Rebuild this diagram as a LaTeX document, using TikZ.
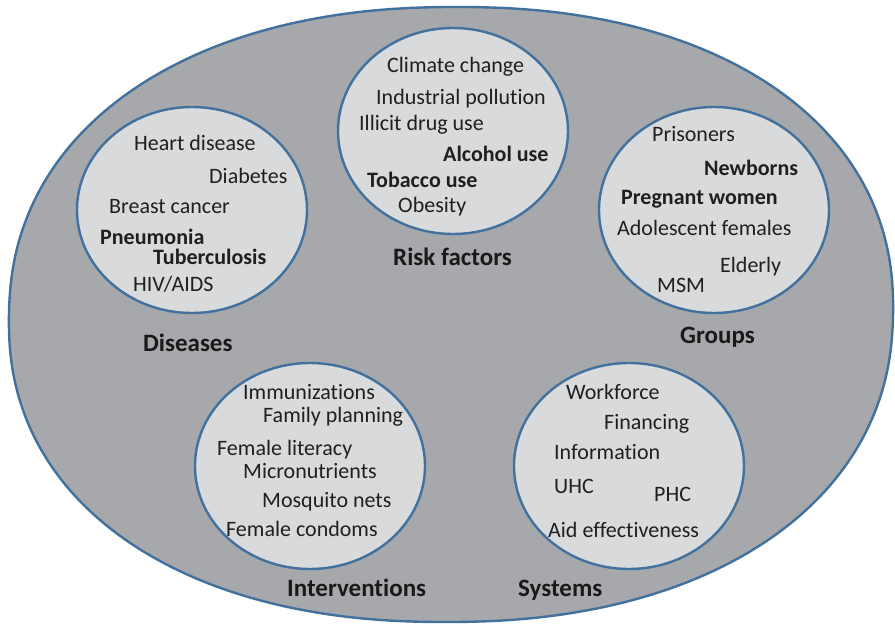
\documentclass[tikz,border=0pt]{standalone}
\usepackage{fontspec}
\setmainfont{Carlito}[RawFeature={-liga}]
\usetikzlibrary{shapes.geometric}
\definecolor{outerfill}{RGB}{166,168,171}
\definecolor{innerfill}{RGB}{217,218,220}
\definecolor{rim}{RGB}{65,113,156}
\begin{document}
\begin{tikzpicture}[x=1pt,y=-1pt,
  outer/.style={draw=rim, line width=2.4pt, fill=outerfill},
  bubble/.style={ellipse, draw=rim, line width=2.4pt, fill=innerfill, minimum width=230pt, minimum height=206pt, inner sep=0pt},
  item/.style={anchor=base west, inner sep=0pt, font=\fontsize{22}{26}\selectfont, text=black!88},
  bitem/.style={item, font=\fontsize{22}{26}\selectfont\bfseries},
  grouptitle/.style={anchor=base west, inner sep=0pt, font=\fontsize{25}{30}\selectfont\bfseries, text=black!90}]
\useasboundingbox (0,0) rectangle (895,626);
% outer rounded (superellipse-like) region
\draw[outer] plot[smooth cycle, variable=\t, domain=1:359, samples=180]
  ({451+442*cos(\t)/abs(cos(\t))*abs(cos(\t))^0.909-5.5*sin(\t)/abs(sin(\t))*abs(sin(\t))^0.909},
   {314.5+307.5*sin(\t)/abs(sin(\t))*abs(sin(\t))^0.909});
\coordinate (all) at (451,314.5);
\node[bubble] (dis) at (192,210) {};
\node[bubble] (risk) at (453,131) {};
\node[bubble] (grp) at (714,210) {};
\node[bubble] (intv) at (310,466) {};
\node[bubble] (sys) at (629,466) {};
% Diseases
\node[item] (d1) at (134,150) {Heart disease};
\node[item] (d2) at (209,183) {Diabetes};
\node[item] (d3) at (109,213) {Breast cancer};
\node[bitem] (d4) at (100,244) {Pneumonia};
\node[bitem] (d5) at (153,264) {Tuberculosis};
\node[item] (d6) at (133,291) {HIV/AIDS};
\node[grouptitle] (dt) at (143,351) {Diseases};
% Risk factors
\node[item] (r1) at (387,73) {Climate change};
\node[item] (r2) at (376,104) {Industrial pollution};
\node[item] (r3) at (359,130) {Illicit drug use};
\node[bitem] (r4) at (443,161) {Alcohol use};
\node[bitem] (r5) at (367,187) {Tobacco use};
\node[item] (r6) at (398,212) {Obesity};
\node[grouptitle] (rt) at (393,265) {Risk factors};
% Groups
\node[item] (g1) at (652,141) {Prisoners};
\node[bitem] (g2) at (704,175) {Newborns};
\node[bitem] (g3) at (621,204) {Pregnant women};
\node[item] (g4) at (617,235) {Adolescent females};
\node[item] (g5) at (720,272) {Elderly};
\node[item] (g6) at (657,292) {MSM};
\node[grouptitle] (gt) at (680,343) {Groups};
% Interventions
\node[item] (i1) at (243,399) {Immunizations};
\node[item] (i2) at (263,422) {Family planning};
\node[item] (i3) at (217,455) {Female literacy};
\node[item] (i4) at (243,478) {Micronutrients};
\node[item] (i5) at (262,507) {Mosquito nets};
\node[item] (i6) at (226,536) {Female condoms};
\node[grouptitle] (it) at (287,596) {Interventions};
% Systems
\node[item] (s1) at (566,399) {Workforce};
\node[item] (s2) at (604,429) {Financing};
\node[item] (s3) at (554,459) {Information};
\node[item] (s4) at (554,493) {UHC};
\node[item] (s5) at (654,501) {PHC};
\node[item] (s6) at (548,537) {Aid effectiveness};
\node[grouptitle] (st) at (518,596) {Systems};
\end{tikzpicture}
\end{document}
